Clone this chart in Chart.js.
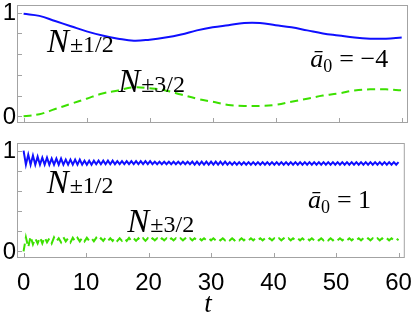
<!DOCTYPE html>
<html>
<head>
<meta charset="utf-8">
<script src="https://cdn.jsdelivr.net/npm/chart.js@4.4.1/dist/chart.umd.min.js"></script>
<style>
  html, body { margin: 0; padding: 0; background: #fff; }
  #wrap { position: relative; width: 415px; height: 314px; }
  canvas { position: absolute; left: 0; }
</style>
</head>
<body>
<div id="wrap">
  <canvas id="topChart" width="415" height="132" style="top:0"></canvas>
  <canvas id="bottomChart" width="415" height="182" style="top:132px"></canvas>
</div>
<script>
// ---- data ----
// upper panel (a0 = -4), slow exchange
const slowT = [0, 2.5, 5, 7.5, 10, 12.5, 15, 17.5, 20, 22.5, 25, 27.5, 30,
               32.5, 35, 37.5, 40, 42.5, 45, 47.5, 50, 52.5, 55, 57.5, 60];
const slowHalf = [0.99, 0.97, 0.92, 0.87, 0.82, 0.78, 0.75, 0.73, 0.74, 0.76, 0.79, 0.83, 0.86,
                  0.88, 0.90, 0.90, 0.88, 0.86, 0.83, 0.80, 0.78, 0.76, 0.75, 0.75, 0.76];
const slowThreeHalf = [0.00, 0.02, 0.07, 0.12, 0.17, 0.22, 0.25, 0.28, 0.27, 0.25, 0.21, 0.17, 0.14,
                       0.11, 0.10, 0.10, 0.11, 0.14, 0.17, 0.20, 0.22, 0.25, 0.26, 0.26, 0.25];

// lower panel (a0 = 1), fast small oscillation, one value per half period
const fastStep = 0.375;
const fastHalf = [
  1.00, 0.86, 0.96, 0.86, 0.95, 0.86, 0.94, 0.86,
  0.93, 0.86, 0.93, 0.86, 0.92, 0.86, 0.92, 0.86,
  0.92, 0.86, 0.91, 0.86, 0.91, 0.86, 0.91, 0.86,
  0.91, 0.86, 0.90, 0.86, 0.90, 0.86, 0.90, 0.865,
  0.90, 0.865, 0.90, 0.865, 0.90, 0.865, 0.90, 0.865,
  0.895, 0.865, 0.895, 0.865, 0.895, 0.865, 0.895, 0.865,
  0.895, 0.865, 0.895, 0.865, 0.895, 0.865, 0.895, 0.865,
  0.89, 0.865, 0.89, 0.865, 0.89, 0.865, 0.89, 0.865,
  0.89, 0.865, 0.89, 0.865, 0.89, 0.865, 0.89, 0.865,
  0.89, 0.86, 0.89, 0.86, 0.89, 0.86, 0.89, 0.86,
  0.89, 0.86, 0.89, 0.86, 0.89, 0.86, 0.89, 0.86,
  0.885, 0.86, 0.885, 0.86, 0.885, 0.86, 0.885, 0.86,
  0.885, 0.86, 0.885, 0.86, 0.885, 0.86, 0.885, 0.86,
  0.885, 0.86, 0.885, 0.86, 0.885, 0.86, 0.885, 0.86,
  0.885, 0.86, 0.885, 0.86, 0.885, 0.86, 0.885, 0.86,
  0.885, 0.86, 0.885, 0.86, 0.885, 0.86, 0.885, 0.86,
  0.885, 0.86, 0.885, 0.86, 0.885, 0.86, 0.885, 0.86,
  0.885, 0.86, 0.885, 0.86, 0.885, 0.86, 0.885, 0.86,
  0.885, 0.86, 0.885, 0.86, 0.885, 0.86, 0.885, 0.86,
  0.885, 0.86, 0.885, 0.86, 0.885, 0.86, 0.885, 0.86,
  0.885
];
const fastThreeHalf = [
  0.00, 0.14, 0.04, 0.15, 0.07, 0.13, 0.08, 0.14,
  0.08, 0.14, 0.09, 0.13, 0.08, 0.14, 0.10, 0.13,
  0.09, 0.14, 0.10, 0.13, 0.09, 0.135, 0.10, 0.135,
  0.10, 0.135, 0.10, 0.135, 0.105, 0.13, 0.10, 0.135,
  0.105, 0.13, 0.105, 0.135, 0.105, 0.13, 0.105, 0.135,
  0.105, 0.13, 0.105, 0.13, 0.105, 0.135, 0.105, 0.13,
  0.105, 0.13, 0.105, 0.13, 0.105, 0.13, 0.105, 0.13,
  0.11, 0.13, 0.105, 0.13, 0.11, 0.13, 0.105, 0.13,
  0.11, 0.13, 0.11, 0.13, 0.11, 0.13, 0.11, 0.13,
  0.11, 0.13, 0.11, 0.13, 0.11, 0.13, 0.11, 0.13,
  0.11, 0.13, 0.11, 0.13, 0.11, 0.13, 0.11, 0.13,
  0.11, 0.13, 0.11, 0.13, 0.11, 0.13, 0.11, 0.13,
  0.11, 0.13, 0.11, 0.13, 0.11, 0.13, 0.11, 0.13,
  0.11, 0.13, 0.11, 0.13, 0.11, 0.13, 0.11, 0.13,
  0.11, 0.13, 0.11, 0.13, 0.11, 0.13, 0.11, 0.13,
  0.11, 0.13, 0.11, 0.13, 0.11, 0.13, 0.11, 0.13,
  0.11, 0.13, 0.11, 0.13, 0.11, 0.13, 0.11, 0.13,
  0.11, 0.13, 0.11, 0.13, 0.11, 0.13, 0.11, 0.13,
  0.11, 0.13, 0.11, 0.13, 0.11, 0.13, 0.11, 0.13,
  0.11, 0.13, 0.11, 0.13, 0.11, 0.13, 0.11, 0.13,
  0.11
];
const fastT = fastHalf.map((_, k) => k * fastStep);

const xTicks = [0, 10, 20, 30, 40, 50, 60];
const yTicks = [0, 0.2, 0.4, 0.6, 0.8, 1];
const yLabelled = [0, 1];

const BLUE = '#0f0fff';
const GREEN = '#3ce000';
const FRAME = '#a3a3a3';

function toPoints(xs, ys) {
  return xs.map((x, i) => ({ x: x, y: ys[i] }));
}

// draws N with its subscript-like label
function drawN(ctx, x, y, rest) {
  ctx.font = 'italic 33px "Liberation Serif"';
  ctx.fillText('N', x, y);
  const w = ctx.measureText('N').width;
  ctx.font = '24px "Liberation Serif"';
  ctx.fillText(rest, x + w + 1, y);
}

function drawA0(ctx, x, y, rhs) {
  ctx.font = 'italic 26px "Liberation Serif"';
  ctx.fillText('\u0101', x, y);
  ctx.font = '18px "Liberation Serif"';
  ctx.fillText('0', x + 13, y + 5);
  ctx.font = '26px "Liberation Serif"';
  ctx.fillText('= ' + rhs, x + 29, y);
}

const framePlugin = {
  id: 'frame',
  afterDraw(chart, args, opts) {
    const { ctx, chartArea: a } = chart;
    const xs = chart.scales.x, ys = chart.scales.y;
    ctx.save();
    ctx.strokeStyle = FRAME;
    ctx.lineWidth = 1;
    ctx.strokeRect(a.left + 0.5, a.top + 0.5, a.right - a.left - 1, a.bottom - a.top - 1);
    ctx.beginPath();
    xTicks.forEach(v => {
      const px = Math.round(xs.getPixelForValue(v)) + 0.5;
      ctx.moveTo(px, a.bottom);
      ctx.lineTo(px, a.bottom - 5);
    });
    yTicks.forEach(v => {
      const py = Math.round(ys.getPixelForValue(v)) + 0.5;
      ctx.moveTo(a.left, py);
      ctx.lineTo(a.left + 5, py);
    });
    ctx.stroke();

    ctx.fillStyle = '#000';
    // y tick labels
    ctx.font = '24px "Liberation Sans"';
    ctx.textAlign = 'right';
    ctx.textBaseline = 'middle';
    yLabelled.forEach(v => {
      ctx.fillText(String(v), a.left - 1, ys.getPixelForValue(v) + 1);
    });

    ctx.textBaseline = 'alphabetic';
    ctx.textAlign = 'left';
    opts.nLabels.forEach(l => {
      drawN(ctx, xs.getPixelForValue(l.t), ys.getPixelForValue(l.v), l.text);
    });
    drawA0(ctx, xs.getPixelForValue(opts.a0.t), ys.getPixelForValue(opts.a0.v), opts.a0.text);
    if (opts.tLabel) {
      ctx.font = 'italic 27px "Liberation Serif"';
      ctx.textAlign = 'center';
      ctx.fillText('t', xs.getPixelForValue(29.5), chart.height - 2);
    }
    ctx.restore();
  }
};

function panel(id, blue, green, step, padTop, xHeight, notes) {
  const smooth = step ? 0 : 0.4;
  return new Chart(document.getElementById(id), {
    type: 'line',
    data: {
      datasets: [{
        data: blue,
        borderColor: BLUE,
        borderWidth: 2,
        pointRadius: 0,
        tension: smooth,
        fill: false
      }, {
        data: green,
        borderColor: GREEN,
        borderWidth: 2,
        borderDash: [8, 5],
        pointRadius: 0,
        tension: smooth,
        fill: false
      }]
    },
    options: {
      responsive: false,
      devicePixelRatio: 1,
      animation: false,
      layout: { padding: { top: padTop, right: 7, bottom: xHeight ? 0 : 9, left: 0 } },
      plugins: { legend: { display: false }, tooltip: { enabled: false }, frame: notes },
      scales: {
        x: {
          type: 'linear',
          min: -1.05,
          max: 61,
          display: xHeight ? true : false,
          afterBuildTicks: s => { s.ticks = xTicks.map(v => ({ value: v })); },
          afterFit: s => { s.height = xHeight; },
          grid: { display: false },
          border: { display: false },
          ticks: {
            color: '#000',
            padding: 3,
            maxRotation: 0,
            autoSkip: false,
            font: { family: '"Liberation Sans"', size: 24 }
          }
        },
        y: {
          type: 'linear',
          min: -0.065,
          max: 1.075,
          afterFit: s => { s.width = 17; },
          grid: { display: false },
          border: { display: false },
          ticks: { display: false }
        }
      }
    },
    plugins: [framePlugin]
  });
}

panel('topChart',
  toPoints(slowT, slowHalf),
  toPoints(slowT, slowThreeHalf),
  0, 5, 0,
  {
    nLabels: [{ t: 3.7, v: 0.62, text: '\u00b11/2' }, { t: 15, v: 0.23, text: '\u00b13/2' }],
    a0: { t: 45.5, v: 0.475, text: '\u22124' },
    tLabel: false
  });

panel('bottomChart',
  toPoints(fastT, fastHalf),
  toPoints(fastT, fastThreeHalf),
  fastStep, 11, 56,
  {
    nLabels: [{ t: 3.7, v: 0.58, text: '\u00b11/2' }, { t: 16.6, v: 0.196, text: '\u00b13/2' }],
    a0: { t: 45.5, v: 0.43, text: '1' },
    tLabel: true
  });
</script>
</body>
</html>
